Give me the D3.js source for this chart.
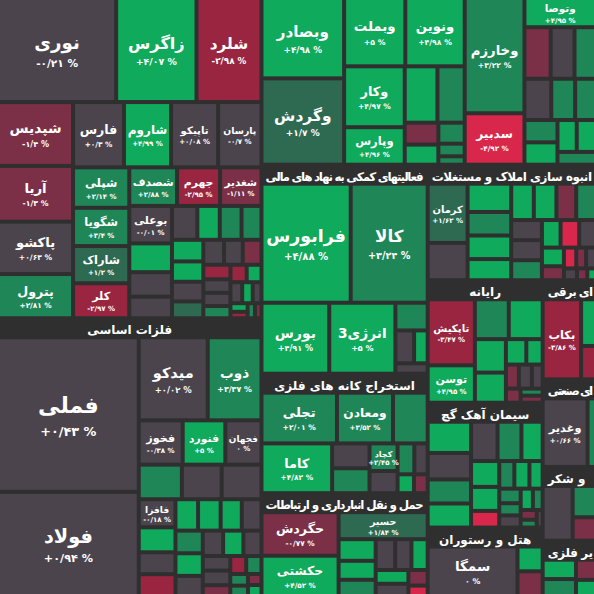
<!DOCTYPE html>
<html><head><meta charset="utf-8">
<script src="https://cdn.jsdelivr.net/npm/d3@7"></script>
<style>body{margin:0;background:#2f2f30}svg{display:block}</style>
</head><body><svg id="c" width="594" height="594"></svg>
<script>
// group helpers: H = side by side, V = stacked, S = squarified
const H = (...c) => ({dir:"h", items:c});
const V = (...c) => ({dir:"v", items:c});
const S = (...c) => ({dir:"s", items:c});
// stocks: [name, weight, change%]
const chemicals = V(
  H(["نوری",10000,-0.21],["زاگرس",6800,4.07],["شلرد",5500,-2.98]),
  H(V(["شپدیس",3900,-1.4],["آریا",3400,-1.3],["پاکشو",3200,0.63],["پترول",2700,2.81]),
    V(H(["فارس",2700,0.3],["شاروم",2500,4.99],["تاپیکو",2500,0.08],["پارسان",2300,-0.7]),
      H(V(["شپلی",1850,2.14],["شگویا",1750,3.4],["شاراک",1700,1.2],["کلر",1600,-2.97]),
        V(H(["شصدف",1500,2.88],["جهرم",1350,-2.95],["شغدیر",1300,-1.11]),
          S(["بوعلی",1300,-0.01],["",1000,4.9],["",850,0.1],["",750,0.1],["",700,0.1],["",620,4.9],["",600,2.5],["",550,2.5],["",550,4.9],["",520,4.9],["",500,0.1],["",430,1.2],["",420,0.1],["",380,0.1],["",380,-1.5],["",320,-3],["",300,0.1],["",290,0.1],["",270,2.5],["",230,-3],["",210,4.9],["",200,0.1],["",180,4.9],["",150,0.1],["",120,4.9],["",90,-3],["",90,2.5],["",80,-1.5]))))));
const metals = H(
  V(["فملی",19000,0.43],["فولاد",12800,0.94]),
  V(H(["میدکو",5000,0.02],["ذوب",3900,3.37]),
    H(["فخوز",1700,-0.38],["فنورد",1650,5],["فجهان",1400,0]),
    H(["",1300,2.5],["",1200,0.1],["",1200,0.1]),
    S(["فافزا",900,-0.18],["",800,4.9],["",700,0.1],["",700,-3],["",620,4.9],["",620,4.9],["",580,4.9],["",540,0.1],["",540,2.5],["",540,4.9],["",480,0.1],["",450,0.1],["",450,4.9],["",400,0.1],["",350,0.1],["",350,0.1],["",260,-1.5],["",250,-3],["",240,2.5],["",180,2.5],["",160,2.5],["",130,-1.5],["",130,4.9])));
const banks = H(
  V(["وبصادر",5400,4.98],["وگردش",5800,1.7]),
  V(H(["وبملت",3400,5],["ونوین",3300,4.98]),
    H(V(["وکار",3000,4.97],["وپارس",1850,4.96]),
      S(["",1500,4.9],["",1250,2.5],["",600,-1.5],["",550,4.9],["",450,2.5],["",270,2.5],["",180,2.5]))));
const invest = H(
  V(["وخارزم",5600,3.22],["سدبیر",2500,-4.92]),
  V(["وتوصا",1700,4.95],
    S(["",1100,-1.5],["",1000,0.1],["",900,2.5],["",900,0.1],["",800,2.5],["",700,2.5],["",600,2.5],["",600,4.9],["",500,4.9],["",500,4.9],["",400,2.5])));
const financial = V(
  H(["فرابورس",9500,4.88],["کالا",8200,3.24]),
  H(["بورس",4300,4.91],["انرژی3",4200,5],S(["",800,2.5],["",550,0.1],["",400,4.9],["",300,0.1])));
const mining = V(
  H(["تجلی",3700,2.01],["ومعادن",2750,3.52],["",1700,2.5]),
  H(["کاما",3400,4.82],S(["",900,0.1],["",900,2.5],["کچاد",750,2.45],["",600,0.1],["",500,2.5],["",400,0.1],["",300,4.9],["",250,-1.5])));
const transport = H(
  V(["حگردش",3350,-0.77],["حکشتی",3100,4.52]),
  V(["حسیر",2400,1.84],S(["",800,4.9],["",700,4.9],["",600,2.5],["",600,0.1],["",500,0.1],["",500,4.9],["",450,4.9],["",400,0.1],["",300,-1.5],["",200,-4.9])));
const realEstate = H(
  V(["کرمان",2300,1.62],["",1450,0.1]),
  S(["",1200,4.9],["",1000,2.5],["",1000,4.9],["",900,4.9],["",800,4.9],["",800,4.9],["",700,-1.5],["",700,2.5],["",600,0.1],["",600,0.1],["",600,2.5],["",500,4.9],["",500,-4.9],["",450,0.1],["",400,4.9],["",300,-1.5],["",250,-4.9],["",200,-1.5],["",200,0.1],["",150,0.1],["",120,-1.5],["",100,4.9]));
const computer = H(
  V(["تاپکیش",3000,-3.47],["توسن",1700,4.95]),
  S(["",1300,2.5],["",1300,4.9],["",1000,4.9],["",900,4.9],["",500,4.9],["",400,4.9],["",300,-1.5],["",300,0.1],["",250,0.1],["",200,-1.5],["",150,2.5],["",150,-1.5]));
const cement = S(["",1300,4.9],["",1100,0.1],["",1000,2.5],["",1000,4.9],["",1000,0.1],["",900,2.5],["",800,4.9],["",700,4.9],["",650,4.9],["",450,-4.9],["",400,2.5],["",400,4.9],["",350,4.9],["",300,2.5],["",250,2.5],["",250,0.1],["",250,4.9],["",200,2.5],["",150,-1.5],["",120,2.5],["",100,0.1]);
const hotel = H(["سمگا",5000,0],V(["گدنا",700,5],["",700,-1.5]));
const electric = H(["بکاب",3100,-3.86],V(["",700,4.9],["",500,-3]));
const industrial = H(["وغدیر",3200,0.66],["",600,2.5]);
const sugar = H(["",1800,0.1],V(["",800,2.5],["",600,-1.5]));
const nonMetal = S(["",800,4.9],["",700,2.5],["",500,-1.5],["",400,4.9]);

const sectorTitles = {metals:"فلزات اساسی",financial:"فعالیتهای کمکی به نهاد های مالی",mining:"استخراج کانه های فلزی",transport:"حمل و نقل انبارداری و ارتباطات",realEstate:"انبوه سازی املاک و مستغلات",computer:"رایانه",cement:"سیمان آهک گچ",hotel:"هتل و رستوران",electric:"ای برقی",industrial:"ای صنعتی",sugar:"و شکر",nonMetal:"یر فلزی"};
const leftAligned = new Set(["electric","industrial","sugar","nonMetal"]);

function conv(x) {
  if (Array.isArray(x)) return {name:x[0], value:x[1], change:x[2]};
  let kids = x.items.map(conv);
  if (x.dir === "s") kids = kids.slice().sort((a,b) => (b.value||0) - (a.value||0));
  return {dir:x.dir, children:kids};
}
const sec = (key, spec) => { const n = conv(spec); n.title = sectorTitles[key] || ""; n.header = !!sectorTitles[key]; n.left = leftAligned.has(key); return n; };
const tree = {dir:"h", children:[
  {dir:"v", children:[sec("chemicals",chemicals), sec("metals",metals)]},
  {dir:"v", children:[
    {dir:"h", children:[sec("banks",banks), sec("invest",invest)]},
    {dir:"h", children:[
      {dir:"v", children:[sec("financial",financial), sec("mining",mining), sec("transport",transport)]},
      {dir:"v", children:[sec("realEstate",realEstate),
        {dir:"h", children:[
          {dir:"v", children:[sec("computer",computer), sec("cement",cement), sec("hotel",hotel)]},
          {dir:"v", children:[sec("electric",electric), sec("industrial",industrial), sec("sugar",sugar), sec("nonMetal",nonMetal)]}
        ]}]}
    ]}
  ]}
]};

const root = d3.hierarchy(tree).sum(d => d.children ? 0 : d.value);
function tile(node, x0, y0, x1, y1) {
  if (node.data.dir === "h") d3.treemapDice(node, x0, y0, x1, y1);
  else if (node.data.dir === "v") d3.treemapSlice(node, x0, y0, x1, y1);
  else d3.treemapSquarify(node, x0, y0, x1, y1);
}
d3.treemap().size([594, 594]).tile(tile).paddingInner(4)
  .paddingTop(d => d.data.header ? 19 : 0)(root);

function color(c) {
  if (c >= 4) return "#0faa5c";
  if (c >= 2) return "#1f8757";
  if (c >= 1) return "#2e6a52";
  if (c > -0.75) return "#4b444d";
  if (c > -2) return "#7b3047";
  if (c > -4.5) return "#9a2540";
  return "#d8274a";
}
const fa = s => s.replace(/\d/g, d => "۰۱۲۳۴۵۶۷۸۹"[d]);
function fmt(c) {
  const s = fa(Math.abs(c).toFixed(2).replace(/\.?0+$/, "").replace(".", "/"));
  return (c > 0 ? "+" : c < 0 ? "-" : "") + s + " %";
}

const svg = d3.select("#c");
svg.append("rect").attr("width",594).attr("height",594).attr("fill","#2f2f30");
const leaves = root.leaves();
const g = svg.selectAll("g.leaf").data(leaves).join("g").attr("class","leaf");
g.append("rect").attr("x",d=>d.x0).attr("y",d=>d.y0)
  .attr("width",d=>Math.max(0,d.x1-d.x0)).attr("height",d=>Math.max(0,d.y1-d.y0))
  .attr("fill",d=>color(d.data.change));
const font = "'DejaVu Sans', 'Noto Sans', sans-serif";
g.filter(d => d.data.name && (d.x1-d.x0) > 24 && (d.y1-d.y0) > 20).each(function(d){
  const w = d.x1-d.x0, h = d.y1-d.y0;
  let fs = Math.min(7 + Math.sqrt(w*h)/9.5, w/(d.data.name.length*0.62+0.5), h/2.4, 25);
  const cx = (d.x0+d.x1)/2, cy = (d.y0+d.y1)/2;
  const s = d3.select(this);
  s.append("text").attr("x",cx).attr("y",cy - fs*0.05).attr("text-anchor","middle")
    .attr("fill","#fff").attr("font-family",font).attr("font-weight","bold").attr("font-size",fs)
    .text(d.data.name);
  s.append("text").attr("x",cx).attr("y",cy + fs*0.95).attr("text-anchor","middle")
    .attr("fill","#fff").attr("font-family",font).attr("font-weight","bold").attr("font-size",Math.max(7,fs*0.58))
    .style("direction","ltr").style("unicode-bidi","bidi-override")
    .text(fmt(d.data.change));
});
const secs = root.descendants().filter(d => d.data.header);
svg.selectAll("text.hdr").data(secs).join("text").attr("class","hdr")
  .attr("x", d => d.data.left ? d.x0 + 3 : (d.x0+d.x1)/2).attr("y", d => d.y0 + 14)
  .attr("text-anchor", d => d.data.left ? "start" : "middle")
  .attr("fill","#fff").attr("font-family",font).attr("font-weight","bold").attr("font-size",12)
  .text(d => d.data.title)
  .each(function(d){ const w = d.x1-d.x0; if (this.getComputedTextLength() > w - 4) this.setAttribute("textLength", w - 4); });
</script></body></html>
